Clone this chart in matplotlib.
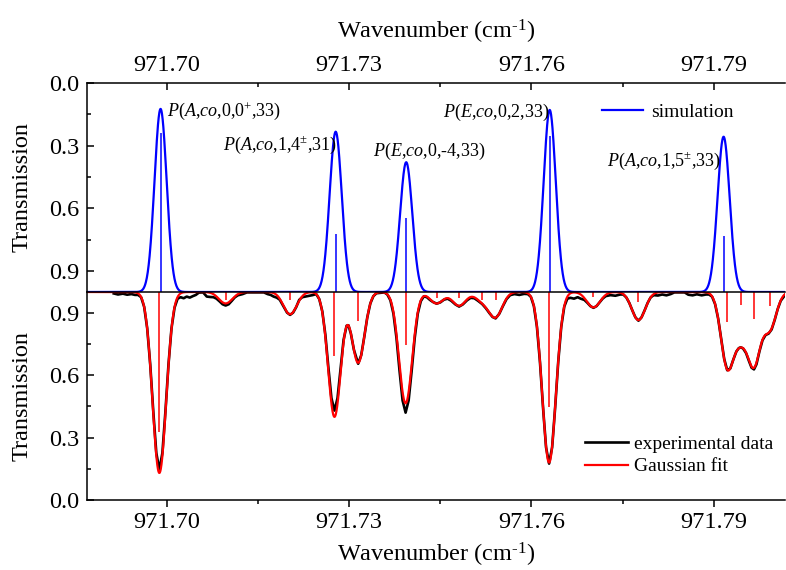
import numpy as np
import matplotlib
matplotlib.use('Agg')
import matplotlib.pyplot as plt
from matplotlib.ticker import MultipleLocator, FormatStrFormatter

plt.rcParams['font.family'] = 'Liberation Serif'
plt.rcParams['mathtext.fontset'] = 'custom'
plt.rcParams['mathtext.rm'] = 'Liberation Serif'
plt.rcParams['mathtext.it'] = 'Liberation Serif:italic'
plt.rcParams['mathtext.bf'] = 'Liberation Serif:bold'

# simulated lines (top panel)
sim_pos = [971.6990, 971.7278, 971.7394, 971.7630, 971.7916]
sim_peak = [0.124, 0.233, 0.379, 0.129, 0.257]
sim_stick = [0.241, 0.724, 0.647, 0.254, 0.732]
sim_width = 0.00100

sim_labels = [r'$P(A{,}co{,}0{,}0^{+}{,}33)$',
              r'$P(A{,}co{,}1{,}4^{\pm}{,}31)$',
              r'$P(E{,}co{,}0{,}\text{-}4{,}33)$',
              r'$P(E{,}co{,}0{,}2{,}33)$',
              r'$P(A{,}co{,}1{,}5^{\pm}{,}33)$']
label_x = [971.7000, 971.7092, 971.7340, 971.7455, 971.7725]
label_y = [0.134, 0.300, 0.329, 0.142, 0.377]

# Gaussian fit lines (bottom panel)
fit_pos = [971.6988, 971.7097, 971.7203, 971.7276, 971.7315, 971.7393,
           971.7444, 971.7481, 971.7519, 971.7541, 971.7629, 971.7702,
           971.7776, 971.7922, 971.7944, 971.7966, 971.7992]
fit_depth = [0.870, 0.055, 0.107, 0.600, 0.340, 0.535,
             0.055, 0.066, 0.040, 0.118, 0.820, 0.074,
             0.135, 0.353, 0.190, 0.335, 0.175]
fit_width = [0.00112, 0.0011, 0.0011, 0.00105, 0.00105, 0.00108,
             0.0011, 0.0011, 0.0011, 0.0011, 0.00112, 0.0011,
             0.0011, 0.00105, 0.00105, 0.00105, 0.00105]
fit_stick = [0.328, 0.963, 0.960, 0.690, 0.862, 0.745,
             0.970, 0.970, 0.962, 0.960, 0.449, 0.975,
             0.953, 0.857, 0.938, 0.869, 0.934]

# experimental trace
exp_wn = [971.6913, 971.6920, 971.6928, 971.6935, 971.6942, 971.6948, 971.6953, 971.6958,
          971.6963, 971.6968, 971.6973, 971.6978, 971.6983, 971.6988, 971.6993, 971.6998,
          971.7003, 971.7008, 971.7013, 971.7018, 971.7023, 971.7028, 971.7033, 971.7038,
          971.7043, 971.7048, 971.7053, 971.7060, 971.7066, 971.7072, 971.7077, 971.7082,
          971.7087, 971.7092, 971.7097, 971.7102, 971.7107, 971.7112, 971.7117, 971.7125,
          971.7132, 971.7160, 971.7166, 971.7171, 971.7176, 971.7181, 971.7186, 971.7190,
          971.7194, 971.7198, 971.7203, 971.7208, 971.7213, 971.7218, 971.7223, 971.7228,
          971.7234, 971.7240, 971.7246, 971.7251, 971.7256, 971.7261, 971.7266, 971.7271,
          971.7276, 971.7281, 971.7286, 971.7291, 971.7296, 971.7299, 971.7303, 971.7308,
          971.7315, 971.7320, 971.7325, 971.7330, 971.7335, 971.7340, 971.7345, 971.7358,
          971.7363, 971.7368, 971.7373, 971.7378, 971.7383, 971.7388, 971.7393, 971.7398,
          971.7403, 971.7408, 971.7413, 971.7418, 971.7423, 971.7428, 971.7433, 971.7438,
          971.7444, 971.7450, 971.7456, 971.7462, 971.7468, 971.7475, 971.7481, 971.7487,
          971.7494, 971.7500, 971.7506, 971.7512, 971.7519, 971.7525, 971.7531, 971.7536,
          971.7541, 971.7547, 971.7553, 971.7559, 971.7565, 971.7572, 971.7580, 971.7588,
          971.7594, 971.7599, 971.7604, 971.7609, 971.7614, 971.7619, 971.7624, 971.7629,
          971.7634, 971.7639, 971.7644, 971.7649, 971.7654, 971.7659, 971.7664, 971.7670,
          971.7676, 971.7681, 971.7687, 971.7692, 971.7697, 971.7702, 971.7707, 971.7712,
          971.7717, 971.7722, 971.7730, 971.7738, 971.7746, 971.7751, 971.7756, 971.7761,
          971.7766, 971.7771, 971.7776, 971.7781, 971.7786, 971.7791, 971.7796, 971.7801,
          971.7808, 971.7815, 971.7822, 971.7829, 971.7835, 971.7852, 971.7858, 971.7865,
          971.7872, 971.7880, 971.7887, 971.7892, 971.7897, 971.7902, 971.7907, 971.7912,
          971.7917, 971.7922, 971.7927, 971.7932, 971.7937, 971.7941, 971.7944, 971.7948,
          971.7953, 971.7958, 971.7962, 971.7966, 971.7970, 971.7975, 971.7980, 971.7985,
          971.7990, 971.7995, 971.8000, 971.8005, 971.8010, 971.8017]
exp_tr = [0.993, 0.988, 0.992, 0.987, 0.990, 0.986, 0.986, 0.975,
          0.929, 0.826, 0.651, 0.426, 0.226, 0.145, 0.226, 0.426,
          0.651, 0.826, 0.925, 0.968, 0.975, 0.970, 0.978, 0.973,
          0.980, 0.986, 0.997, 0.998, 0.978, 0.976, 0.975, 0.968,
          0.955, 0.941, 0.935, 0.941, 0.957, 0.974, 0.984, 0.990,
          0.998, 0.998, 0.990, 0.986, 0.978, 0.973, 0.963, 0.942,
          0.922, 0.901, 0.890, 0.901, 0.927, 0.962, 0.975, 0.978,
          0.982, 0.985, 0.990, 0.966, 0.907, 0.795, 0.637, 0.490,
          0.430, 0.489, 0.630, 0.770, 0.838, 0.840, 0.800, 0.722,
          0.655, 0.696, 0.784, 0.878, 0.945, 0.980, 0.994, 0.998,
          0.988, 0.960, 0.896, 0.779, 0.622, 0.479, 0.420, 0.479,
          0.622, 0.779, 0.896, 0.956, 0.979, 0.975, 0.962, 0.952,
          0.944, 0.950, 0.963, 0.968, 0.958, 0.940, 0.930, 0.940,
          0.960, 0.972, 0.970, 0.958, 0.942, 0.922, 0.898, 0.880,
          0.873, 0.895, 0.932, 0.966, 0.985, 0.990, 0.986, 0.991,
          0.990, 0.977, 0.932, 0.833, 0.663, 0.446, 0.253, 0.175,
          0.253, 0.446, 0.663, 0.833, 0.930, 0.968, 0.972, 0.968,
          0.975, 0.968, 0.962, 0.948, 0.932, 0.924, 0.932, 0.950,
          0.968, 0.980, 0.985, 0.982, 0.988, 0.988, 0.974, 0.947,
          0.911, 0.878, 0.862, 0.878, 0.911, 0.947, 0.974, 0.985,
          0.983, 0.988, 0.984, 0.990, 0.998, 0.998, 0.987, 0.984,
          0.989, 0.984, 0.988, 0.988, 0.978, 0.942, 0.873, 0.774,
          0.678, 0.624, 0.632, 0.675, 0.714, 0.730, 0.734, 0.729,
          0.706, 0.666, 0.636, 0.628, 0.652, 0.715, 0.768, 0.793,
          0.800, 0.820, 0.865, 0.918, 0.958, 0.985]

xmin, xmax = 971.6869, 971.8017


def gauss_sum(x, pos, depth, width):
    y = np.ones_like(x)
    for p, d, w in zip(pos, depth, width):
        y -= d * np.exp(-0.5 * ((x - p) / w) ** 2)
    return y


xx = np.linspace(xmin, xmax, 3000)
sim_curve = gauss_sum(xx, sim_pos, [1 - v for v in sim_peak], [sim_width] * len(sim_pos))
fit_curve = gauss_sum(xx, fit_pos, fit_depth, fit_width)

fig = plt.figure(figsize=(7.86, 5.70), dpi=100)
W, H = 786.0, 570.0
ax1 = fig.add_axes([87 / W, 1 - 292 / H, 698 / W, 209 / H])
ax2 = fig.add_axes([87 / W, 1 - 500 / H, 698 / W, 208 / H])

# top panel: simulation
ax1.vlines(sim_pos, sim_stick, 1.0, color='blue', lw=1.1)
ax1.plot(xx, sim_curve, color='blue', lw=1.6, label='simulation')
for lab, lx, ly in zip(sim_labels, label_x, label_y):
    ax1.text(lx, ly, lab, fontsize=13, ha='left', va='center')
ax1.set_xlim(xmin, xmax)
ax1.set_ylim(1.0, 0.0)

# bottom panel: experiment and fit
ax2.plot(exp_wn, exp_tr, color='black', lw=1.9, label='experimental data')
ax2.plot(xx, fit_curve, color='red', lw=1.6, label='Gaussian fit')
ax2.vlines(fit_pos, fit_stick, 1.0, color='red', lw=1.1)
ax2.set_xlim(xmin, xmax)
ax2.set_ylim(0.0, 1.0)

for ax in (ax1, ax2):
    ax.xaxis.set_major_locator(MultipleLocator(0.03))
    ax.xaxis.set_minor_locator(MultipleLocator(0.015))
    ax.xaxis.set_major_formatter(FormatStrFormatter('%.2f'))
    ax.yaxis.set_major_locator(MultipleLocator(0.3))
    ax.yaxis.set_minor_locator(MultipleLocator(0.15))
    ax.yaxis.set_major_formatter(FormatStrFormatter('%.1f'))
    ax.spines['right'].set_visible(False)
    for s in ax.spines.values():
        s.set_linewidth(1.1)
    ax.tick_params(axis='y', which='both', direction='in', right=False,
                   labelsize=17.5, pad=5.5, width=1.1)
    ax.tick_params(axis='y', which='major', length=5)
    ax.tick_params(axis='y', which='minor', length=3)
    ax.set_ylabel('Transmission', fontsize=17.5)
    ax.yaxis.set_label_coords(-0.078, 0.5)

ax1.spines['bottom'].set_visible(False)
ax1.xaxis.tick_top()
ax1.xaxis.set_label_position('top')
ax1.tick_params(axis='x', which='both', direction='in', top=True, bottom=False,
                labelsize=17.5, pad=5, width=1.1)
ax1.tick_params(axis='x', which='major', length=5)
ax1.tick_params(axis='x', which='minor', length=3)
ax1.set_xlabel('Wavenumber (cm$^{\\text{-}1}$)', fontsize=17.5, labelpad=12)

ax2.tick_params(axis='x', which='both', direction='out', top=False, bottom=True,
                labelsize=17.5, pad=4, width=1.1)
ax2.tick_params(axis='x', which='major', length=5)
ax2.tick_params(axis='x', which='minor', length=3)
ax2.set_xlabel('Wavenumber (cm$^{\\text{-}1}$)', fontsize=17.5, labelpad=5)

leg1 = ax1.legend(loc='center left', bbox_to_anchor=(601.7 / W, 1 - 111.7 / H),
                  bbox_transform=fig.transFigure, frameon=False, fontsize=14,
                  handlelength=2.1, handletextpad=0.45, borderpad=0, borderaxespad=0)
leg2 = ax2.legend(loc='center left', bbox_to_anchor=(585 / W, 1 - 455.3 / H),
                  bbox_transform=fig.transFigure, frameon=False, fontsize=14,
                  handlelength=2.2, handletextpad=0.3, labelspacing=0.25,
                  borderpad=0, borderaxespad=0)

fig.savefig('out.png', dpi=100)
